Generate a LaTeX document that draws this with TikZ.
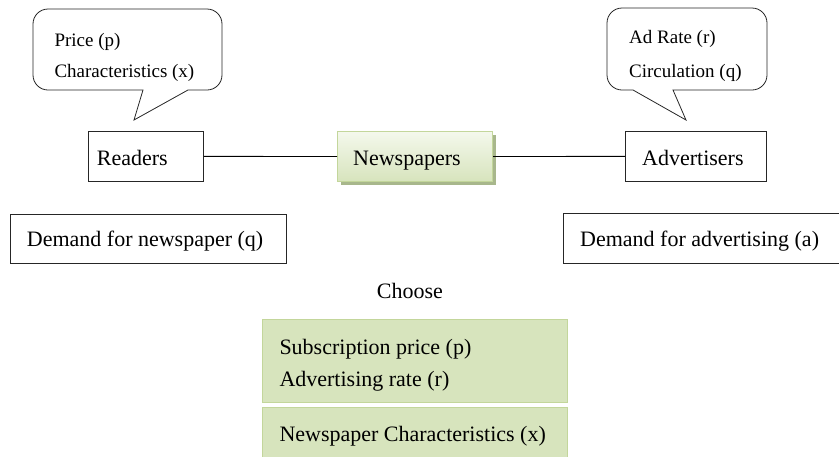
\documentclass[tikz,border=0pt]{standalone}
\usepackage{fontspec}
\setmainfont{Liberation Serif}
\usetikzlibrary{shadows}
\definecolor{gfill}{HTML}{D7E4BD}
\definecolor{gline}{HTML}{C3D69B}
\definecolor{gtop}{HTML}{F4F8EC}
\definecolor{gshadow}{HTML}{A8B78C}
\begin{document}
\begin{tikzpicture}[x=1pt,y=-1pt,
  plainbox/.style={draw=black!85, line width=0.8pt, fill=white, inner sep=0pt, anchor=north west},
  greenbox/.style={draw=gline, line width=1pt, fill=gfill, inner sep=0pt, anchor=north west},
  newsbox/.style={draw=gline, line width=1pt, top color=gtop, bottom color=gfill, inner sep=0pt, anchor=north west,
    drop shadow={shadow xshift=3pt, shadow yshift=-3pt, fill=gshadow, opacity=1}},
  bigtxt/.style={font=\fontsize{22}{26}\selectfont, inner sep=0pt, anchor=base west},
  smalltxt/.style={font=\fontsize{19}{22}\selectfont, inner sep=0pt, anchor=base west},
  callout/.style={draw=black!85, line width=0.8pt, fill=white, line join=miter},
  link/.style={draw=black, line width=0.9pt}]
\useasboundingbox (0,0) rectangle (839,456);
\clip (0,0) rectangle (839,456);

% callouts
\draw[callout] (143,90) -- (134,120) -- (188,90) -- (207,90)
  .. controls (215.3,90) and (222,83.3) .. (222,75) -- (222,24)
  .. controls (222,15.7) and (215.3,9) .. (207,9) -- (48,9)
  .. controls (39.7,9) and (33,15.7) .. (33,24) -- (33,75)
  .. controls (33,83.3) and (39.7,90) .. (48,90) -- cycle;
\node[smalltxt] (price) at (54.3,46.5) {Price (p)};
\node[smalltxt] (charx) at (54.3,77.3) {Characteristics (x)};

\draw[callout] (673,90) -- (686,120) -- (633,90) -- (622,90)
  .. controls (613.7,90) and (607,83.3) .. (607,75) -- (607,23)
  .. controls (607,14.7) and (613.7,8) .. (622,8) -- (752,8)
  .. controls (760.3,8) and (767,14.7) .. (767,23) -- (767,75)
  .. controls (767,83.3) and (760.3,90) .. (752,90) -- cycle;
\node[smalltxt] (adrate) at (629,43) {Ad Rate (r)};
\node[smalltxt] (circ) at (629,77.3) {Circulation (q)};

% main row
\node[plainbox, minimum width=115pt, minimum height=50pt] (readers) at (88,131) {};
\node[bigtxt] (readerstxt) at (96.7,165.7) {Readers};
\node[newsbox, minimum width=155pt, minimum height=50pt] (news) at (337,131) {};
\node[bigtxt] (newstxt) at (353,165.7) {Newspapers};
\node[plainbox, minimum width=141pt, minimum height=50pt] (adv) at (625,131) {};
\node[bigtxt] (advtxt) at (642,165.7) {Advertisers};

\draw[link] (readers.east) -- (news.west);
\draw[link] (news.east) -- (adv.west);

% demand boxes
\node[plainbox, minimum width=276pt, minimum height=49pt] (dnews) at (10,214) {};
\node[bigtxt] (dnewstxt) at (26.7,246.7) {Demand for newspaper (q)};
\node[plainbox, minimum width=282pt, minimum height=50pt] (dadv) at (563,213) {};
\node[bigtxt] (dadvtxt) at (580,246.7) {Demand for advertising (a)};

% choose
\node[bigtxt] (choose) at (376.7,298.3) {Choose};
\node[greenbox, minimum width=305pt, minimum height=83pt] (g1) at (262,319) {};
\node[bigtxt] (subs) at (279.3,354) {Subscription price (p)};
\node[bigtxt] (adr) at (279.3,386.7) {Advertising rate (r)};
\node[greenbox, minimum width=305pt, minimum height=70pt] (g2) at (262,407) {};
\node[bigtxt] (nchar) at (279.3,441.7) {Newspaper Characteristics (x)};
\end{tikzpicture}
\end{document}
